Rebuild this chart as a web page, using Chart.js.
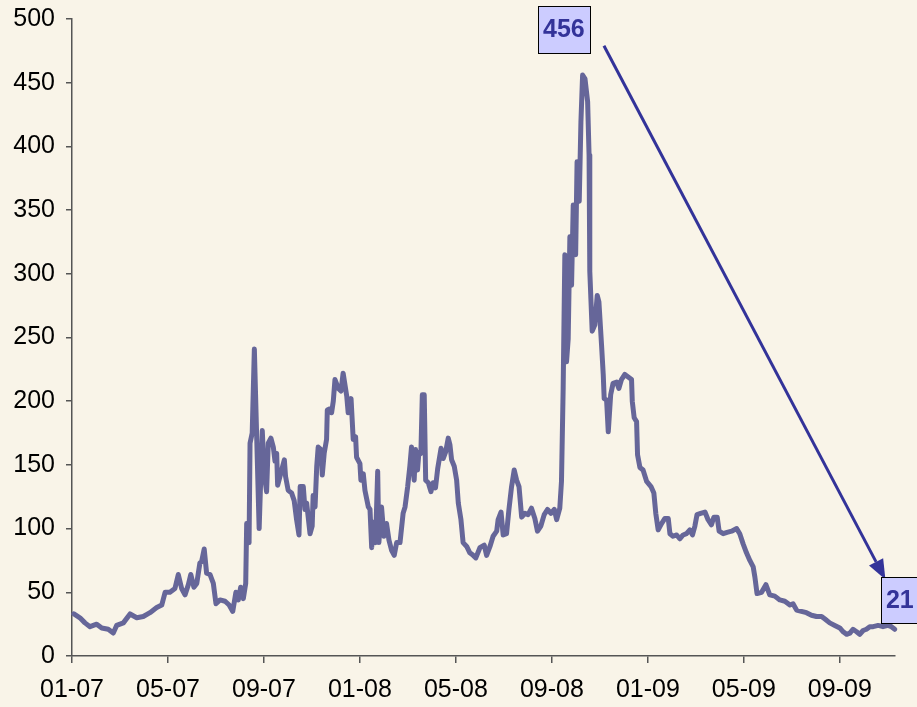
<!DOCTYPE html>
<html>
<head>
<meta charset="utf-8">
<script src="https://cdn.jsdelivr.net/npm/chart.js@4.4.1/dist/chart.umd.min.js"></script>
<style>
  html, body { margin: 0; padding: 0; background: #F9F4E8; }
  #wrap { width: 917px; height: 707px; overflow: hidden; }
  canvas { display: block; }
</style>
</head>
<body>
<div id="wrap"><canvas id="chart" width="917" height="707"></canvas></div>
<script>
// Month offsets since January 2007 (0 = 1 Jan 2007)
const months = [
  0.08, 0.33, 0.54, 0.75, 1.03, 1.24, 1.51, 1.72, 1.86, 2.14, 2.42, 2.70, 2.97, 3.25, 3.53, 3.74,
  3.88, 4.08, 4.29, 4.43, 4.57, 4.71, 4.85, 4.95, 5.08, 5.20, 5.33, 5.40, 5.51, 5.61, 5.75, 5.89,
  6.00, 6.17, 6.38, 6.55, 6.70, 6.83, 6.93, 7.03, 7.14, 7.24, 7.28, 7.38, 7.42, 7.51, 7.60, 7.70,
  7.80, 7.93, 8.01, 8.11, 8.18, 8.29, 8.39, 8.46, 8.53, 8.57, 8.67, 8.74, 8.85, 8.90, 9.01, 9.15,
  9.26, 9.36, 9.46, 9.51, 9.64, 9.71, 9.78, 9.92, 10.01, 10.05, 10.13, 10.20, 10.26, 10.38, 10.43, 10.51,
  10.61, 10.64, 10.75, 10.82, 10.89, 10.96, 11.10, 11.21, 11.30, 11.45, 11.51, 11.63, 11.72, 11.82, 11.86, 12.00,
  12.04, 12.14, 12.21, 12.35, 12.42, 12.49, 12.55, 12.65, 12.74, 12.79, 12.90, 13.00, 13.11, 13.21, 13.32, 13.43,
  13.53, 13.67, 13.80, 13.88, 13.99, 14.08, 14.15, 14.22, 14.26, 14.32, 14.40, 14.46, 14.54, 14.60, 14.68, 14.74,
  14.85, 14.96, 15.05, 15.15, 15.24, 15.38, 15.47, 15.57, 15.68, 15.75, 15.82, 15.93, 16.03, 16.10, 16.21, 16.30,
  16.45, 16.58, 16.72, 16.83, 17.00, 17.18, 17.28, 17.42, 17.55, 17.70, 17.76, 17.88, 17.97, 18.11, 18.21, 18.32,
  18.43, 18.53, 18.63, 18.74, 18.88, 19.01, 19.15, 19.29, 19.40, 19.54, 19.68, 19.82, 19.96, 20.10, 20.20, 20.33,
  20.40, 20.47, 20.54, 20.61, 20.68, 20.75, 20.82, 20.89, 20.99, 21.05, 21.14, 21.21, 21.28, 21.38, 21.49, 21.55,
  21.58, 21.68, 21.79, 21.89, 21.96, 22.07, 22.14, 22.18, 22.28, 22.35, 22.45, 22.55, 22.70, 22.79, 22.90, 23.04,
  23.18, 23.32, 23.35, 23.43, 23.53, 23.57, 23.67, 23.80, 23.95, 24.13, 24.25, 24.33, 24.43, 24.57, 24.71, 24.85,
  24.92, 25.05, 25.20, 25.33, 25.47, 25.61, 25.75, 25.86, 25.96, 26.05, 26.20, 26.38, 26.51, 26.65, 26.75, 26.89,
  26.97, 27.14, 27.30, 27.49, 27.70, 27.83, 27.97, 28.11, 28.25, 28.39, 28.46, 28.55, 28.74, 28.92, 29.08, 29.29,
  29.50, 29.71, 29.92, 30.05, 30.20, 30.40, 30.61, 30.82, 31.03, 31.24, 31.38, 31.58, 31.79, 32.00, 32.14, 32.28,
  32.42, 32.55, 32.70, 32.83, 32.97, 33.11, 33.25, 33.39, 33.60, 33.80, 34.01, 34.15, 34.29
];

// Spread in basis points
const spreadBp = [
  33, 30, 26, 23, 25, 22, 21, 18, 24, 26, 33, 30, 31, 34, 38, 40,
  50, 50, 53, 64, 53, 48, 56, 64, 54, 57, 73, 74, 84, 65, 64, 57,
  41, 44, 43, 40, 35, 50, 44, 54, 45, 57, 104, 89, 167, 175, 241, 170,
  100, 177, 143, 129, 167, 171, 164, 153, 159, 134, 141, 146, 154, 141, 130, 128,
  122, 107, 95, 133, 133, 115, 120, 96, 102, 126, 117, 149, 164, 162, 142, 159,
  170, 193, 194, 191, 200, 217, 210, 208, 222, 204, 191, 202, 170, 172, 156, 151,
  138, 143, 130, 117, 115, 85, 105, 89, 145, 89, 117, 94, 104, 91, 83, 79,
  89, 89, 112, 117, 133, 149, 164, 149, 138, 162, 146, 160, 159, 205, 205, 138,
  136, 129, 136, 132, 147, 163, 155, 160, 171, 166, 154, 149, 138, 120, 107, 89,
  86, 81, 79, 77, 85, 87, 79, 86, 94, 98, 107, 113, 95, 96, 115, 133,
  146, 138, 133, 109, 112, 111, 116, 108, 98, 102, 111, 115, 112, 115, 107, 116,
  137, 210, 315, 231, 249, 329, 291, 354, 315, 388, 357, 419, 456, 453, 435, 393,
  302, 255, 260, 283, 278, 244, 221, 202, 201, 176, 205, 214, 215, 210, 217, 221,
  219, 217, 200, 187, 184, 158, 148, 146, 137, 133, 128, 112, 99, 104, 108, 108,
  96, 94, 95, 92, 95, 96, 99, 95, 102, 111, 112, 113, 107, 103, 109, 109,
  98, 96, 97, 98, 100, 96, 88, 81, 75, 70, 62, 49, 50, 56, 48, 47,
  44, 43, 40, 41, 36, 35, 34, 32, 31, 31, 29, 26, 24, 22, 19, 17,
  18, 21, 19, 17, 20, 21, 23, 23, 24, 23, 24, 23, 21
];

// Axis ticks
const tickMonths = [0, 4, 8, 12, 16, 20, 24, 28, 32];
const tickLabels = ['01-07', '05-07', '09-07', '01-08', '05-08', '09-08', '01-09', '05-09', '09-09'];

const BG = '#F9F4E8';
const LINE = '#666699';
const AXIS = '#555555';
const NAVY = '#333399';

Chart.defaults.font.family = "'Liberation Sans', Arial, sans-serif";
Chart.defaults.color = '#000000';

const points = months.map((m, i) => ({ x: m, y: spreadBp[i] }));

// Callout boxes and the arrow between them, anchored in data units
const callouts = {
  peakBox: { x: 20.5, y: 492, w: 52, h: 47 },
  lastBox: { x: 34.5, y: 44, w: 38, h: 46 },
  arrowFrom: { x: 22.17, y: 479 },
  arrowTo: { x: 33.9, y: 60 }
};

const backgroundPlugin = {
  id: 'bg',
  beforeDraw(chart) {
    const ctx = chart.ctx;
    ctx.save();
    ctx.fillStyle = BG;
    ctx.fillRect(0, 0, chart.width, chart.height);
    ctx.restore();
  }
};

function drawBox(ctx, cx, cy, w, h, text) {
  ctx.save();
  ctx.fillStyle = '#CCCCFF';
  ctx.strokeStyle = '#000000';
  ctx.lineWidth = 1;
  const x0 = Math.round(cx - w / 2) + 0.5, y0 = Math.round(cy - h / 2) + 0.5;
  ctx.fillRect(x0, y0, w, h);
  ctx.strokeRect(x0, y0, w, h);
  ctx.fillStyle = NAVY;
  ctx.font = "bold 25px 'Liberation Sans', Arial, sans-serif";
  ctx.textAlign = 'center';
  ctx.textBaseline = 'middle';
  ctx.fillText(text, cx, cy + 1);
  ctx.restore();
}

const calloutPlugin = {
  id: 'callouts',
  afterDraw(chart) {
    const ctx = chart.ctx;
    const xs = chart.scales.x, ys = chart.scales.y;
    const px = p => xs.getPixelForValue(p.x);
    const py = p => ys.getPixelForValue(p.y);

    // arrow
    const x1 = px(callouts.arrowFrom), y1 = py(callouts.arrowFrom);
    const x2 = px(callouts.arrowTo), y2 = py(callouts.arrowTo);
    const ang = Math.atan2(y2 - y1, x2 - x1);
    const headLen = 20, headHalf = 8;
    const bx = x2 - headLen * Math.cos(ang), by = y2 - headLen * Math.sin(ang);
    ctx.save();
    ctx.strokeStyle = NAVY;
    ctx.fillStyle = NAVY;
    ctx.lineWidth = 3;
    ctx.beginPath();
    ctx.moveTo(x1, y1);
    ctx.lineTo(bx, by);
    ctx.stroke();
    ctx.beginPath();
    ctx.moveTo(x2, y2);
    ctx.lineTo(bx + headHalf * Math.sin(ang), by - headHalf * Math.cos(ang));
    ctx.lineTo(bx - headHalf * Math.sin(ang), by + headHalf * Math.cos(ang));
    ctx.closePath();
    ctx.fill();
    ctx.restore();

    const peak = Math.max(...spreadBp);
    const last = spreadBp[spreadBp.length - 1];
    const pb = callouts.peakBox, lb = callouts.lastBox;
    drawBox(ctx, px(pb), py(pb), pb.w, pb.h, String(peak));
    drawBox(ctx, px(lb), py(lb), lb.w, lb.h, String(last));
  }
};

const chart = new Chart(document.getElementById('chart'), {
  type: 'line',
  data: {
    datasets: [{
      data: points,
      borderColor: LINE,
      borderWidth: 5,
      borderJoinStyle: 'round',
      borderCapStyle: 'round',
      pointRadius: 0,
      tension: 0,
      fill: false,
      clip: false
    }]
  },
  options: {
    responsive: false,
    animation: false,
    events: [],
    layout: { padding: { left: 0, right: 22, top: 19, bottom: 0 } },
    plugins: { legend: { display: false }, tooltip: { enabled: false } },
    scales: {
      x: {
        type: 'linear',
        min: 0,
        max: 34.3,
        afterBuildTicks: s => { s.ticks = tickMonths.map(v => ({ value: v })); },
        afterFit: s => { s.height = 51; s.paddingLeft = 0; s.paddingRight = 0; },
        grid: { display: true, drawOnChartArea: false, drawTicks: true, tickLength: 7, color: AXIS, lineWidth: 1.5 },
        border: { display: true, color: AXIS, width: 1.5 },
        ticks: {
          autoSkip: false,
          maxRotation: 0,
          padding: 12,
          font: { size: 25 },
          color: '#000000',
          callback: v => { const i = tickMonths.indexOf(v); return i >= 0 ? tickLabels[i] : ''; }
        }
      },
      y: {
        min: 0,
        max: 500,
        afterFit: s => { s.width = 72; s.paddingTop = 0; s.paddingBottom = 0; },
        grid: { display: true, drawOnChartArea: false, drawTicks: true, tickLength: 6, color: AXIS, lineWidth: 1.5 },
        border: { display: true, color: AXIS, width: 1.5 },
        ticks: { stepSize: 50, padding: 11, font: { size: 25 }, color: '#000000' }
      }
    }
  },
  plugins: [backgroundPlugin, calloutPlugin]
});
</script>
</body>
</html>
